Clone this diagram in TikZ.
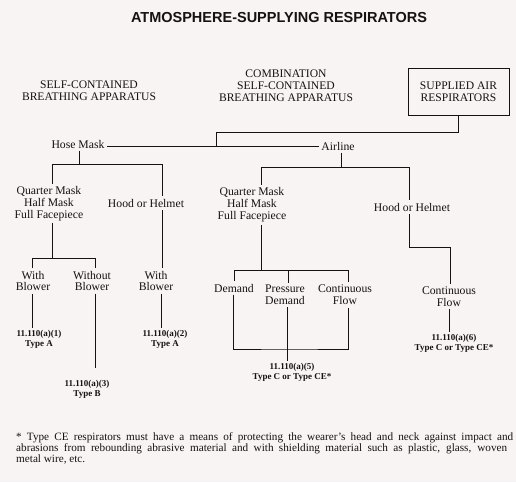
\documentclass[tikz,border=0pt]{standalone}
\usepackage{fontspec}
\setmainfont{Liberation Serif}
\newfontfamily\titlefont{Liberation Sans}
\definecolor{bg}{RGB}{248,244,244}
\definecolor{ink}{RGB}{20,18,18}
\begin{document}
\begin{tikzpicture}[x=1pt,y=-1pt,
  every node/.style={text=ink, inner sep=2.5pt},
  lbl/.style={font=\fontsize{11.7}{11.8}\selectfont, align=center},
  head/.style={font=\fontsize{11.6}{12.5}\selectfont, align=center},
  code/.style={font=\fontsize{9}{10}\selectfont\bfseries, align=center, inner sep=1.5pt},
  wire/.style={draw=ink, line width=0.9pt},
  foot/.style={anchor=base west, inner sep=0pt, font=\fontsize{11.2}{11}\selectfont}]
\fill[bg] (0,0) rectangle (516,482);
\useasboundingbox (0,0) rectangle (516,482);

% title and headings
\node[font=\titlefont\fontsize{14.5}{15}\selectfont\bfseries] (title) at (279,18) {ATMOSPHERE-SUPPLYING RESPIRATORS};
\node[head] (scba) at (89,90.5) {SELF-CONTAINED\\BREATHING APPARATUS};
\node[head, font=\fontsize{11.6}{12}\selectfont] (comb) at (286,86) {COMBINATION\\SELF-CONTAINED\\BREATHING APPARATUS};
\node[head, font=\fontsize{11.6}{11.5}\selectfont, draw=ink, line width=1pt, minimum width=101pt, minimum height=47pt] (sar) at (458.5,91.5) {SUPPLIED AIR\\RESPIRATORS};

% level 1
\node[lbl] (hose) at (78,144) {Hose Mask};
\node[lbl] (air) at (338,146) {Airline};
\coordinate (j0) at (216,146);
\draw[wire] (sar.south) -- ++(0,17) -| (j0);
\draw[wire] (hose.east |- j0) -- (air.west |- j0);

% left tree
\node[lbl] (qm1) at (49,203.5) {Quarter Mask\\Half Mask\\Full Facepiece};
\node[lbl] (hh1) at (146,203) {Hood or Helmet};
\node[lbl] (wb1) at (33,281) {With\\Blower};
\node[lbl] (wob) at (92,281) {Without\\Blower};
\node[lbl] (wb2) at (156,281) {With\\Blower};
\node[code] (lab1) at (39,339) {11.110(a)(1)\\Type A};
\node[code] (lab3) at (87,389.5) {11.110(a)(3)\\Type B};
\node[code] (lab2) at (165,339) {11.110(a)(2)\\Type A};

\coordinate (jh) at (79,164);
\coordinate (jq1) at (52,258);
\draw[wire] (jh |- hose.south) -- (jh) -| ([xshift=3pt]qm1.north);
\draw[wire] (jh) -| ([xshift=16pt]hh1.north);
\draw[wire] (jq1 |- qm1.south) -- (jq1) -| ([xshift=-1pt]wb1.north);
\draw[wire] (jq1) -| ([xshift=3pt]wob.north);
\draw[wire] ([xshift=16pt]hh1.south) -- ([xshift=16pt]hh1.south |- wb2.north);
\draw[wire] ([xshift=-1pt]wb1.south) -- ([xshift=-1pt]wb1.south |- lab1.north);
\draw[wire, shorten >=11pt] ([xshift=3pt]wob.south) -- ([xshift=3pt]wob.south |- lab3.north);
\draw[wire] ([xshift=5pt]wb2.south) -- ([xshift=5pt]wb2.south |- lab2.north);

% middle / right tree
\node[lbl, font=\fontsize{11.7}{12}\selectfont] (qm2) at (252,205) {Quarter Mask\\Half Mask\\Full Facepiece};
\node[lbl] (hh2) at (412,207) {Hood or Helmet};
\node[lbl] (dem) at (234,288) {Demand};
\node[lbl] (pd) at (285,295) {Pressure\\Demand};
\node[lbl] (cf1) at (345,295) {Continuous\\Flow};
\node[lbl] (cf2) at (449,296.5) {Continuous\\Flow};
\node[code] (lab5) at (292,372) {11.110(a)(5)\\Type C or Type CE*};
\node[code] (lab6) at (454,343) {11.110(a)(6)\\Type C or Type CE*};

\coordinate (ja) at (341,167);
\coordinate (jq2) at (261,270);
\coordinate (jh2) at (409,247);
\coordinate (j5) at (288,349);
\draw[wire] (ja |- air.south) -- (ja) -| ([xshift=9pt]qm2.north);
\draw[wire] (ja) -| ([xshift=-3pt]hh2.north);
\draw[wire] (jq2 |- qm2.south) -- (jq2) -| (dem.north);
\draw[wire] (jq2) -| ([xshift=3pt]pd.north);
\draw[wire] (jq2) -| ([xshift=3pt]cf1.north);
\draw[wire] (jh2 |- hh2.south) -- (jh2) -| ([xshift=1pt]cf2.north);
\draw[wire] ([xshift=-1pt]dem.south) |- (j5) -| ([xshift=3pt]cf1.south);
\draw[wire] ([xshift=2pt]pd.south) -- ([xshift=2pt]pd.south |- lab5.north);
\draw[wire] (cf2.south) -- (cf2.south |- lab6.north);

% footnote
\node[foot] (fn1) at (16,440.5) {\makebox[497pt][s]{* Type CE respirators must have a means of protecting the wearer’s head and neck against impact and}};
\node[foot] (fn2) at (16,451.5) {\makebox[491pt][s]{abrasions from rebounding abrasive material and with shielding material such as plastic, glass, woven}};
\node[foot] (fn3) at (16,462.5) {metal wire, etc.};
\end{tikzpicture}
\end{document}
